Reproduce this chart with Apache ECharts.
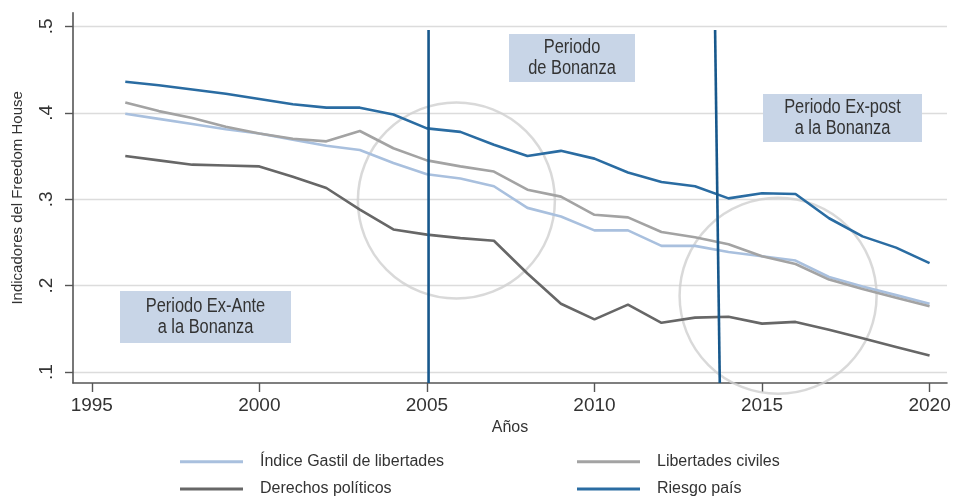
<!DOCTYPE html>
<html>
<head>
<meta charset="utf-8">
<script src="https://cdn.jsdelivr.net/npm/echarts@6/dist/echarts.min.js"></script>
<style>
  html, body { margin: 0; padding: 0; background: #fff; }
  #chart { width: 953px; height: 499px; }
</style>
</head>
<body>
<div id="chart"></div>
<script>
// Años observados
const years = [1996, 1997, 1998, 1999, 2000, 2001, 2002, 2003, 2004, 2005, 2006, 2007, 2008,
  2009, 2010, 2011, 2012, 2013, 2014, 2015, 2016, 2017, 2018, 2019, 2020];

// Indicadores (escala 0-1)
const gastil = [0.399, 0.393, 0.387, 0.381, 0.376, 0.369, 0.362, 0.357, 0.342, 0.329, 0.324, 0.315, 0.290,
  0.280, 0.264, 0.264, 0.246, 0.246, 0.239, 0.234, 0.229, 0.210, 0.199, 0.189, 0.179];
const civiles = [0.412, 0.402, 0.394, 0.384, 0.376, 0.370, 0.367, 0.379, 0.359, 0.345, 0.338, 0.332, 0.311,
  0.303, 0.282, 0.279, 0.262, 0.256, 0.248, 0.234, 0.225, 0.207, 0.196, 0.186, 0.176];
const politicos = [0.350, 0.345, 0.340, 0.339, 0.338, 0.326, 0.313, 0.288, 0.265, 0.259, 0.255, 0.252, 0.214,
  0.179, 0.161, 0.178, 0.157, 0.163, 0.164, 0.156, 0.158, 0.149, 0.139, 0.129, 0.119];
const riesgo = [0.436, 0.432, 0.427, 0.422, 0.416, 0.410, 0.406, 0.406, 0.398, 0.382, 0.378, 0.363, 0.350,
  0.356, 0.347, 0.331, 0.320, 0.315, 0.301, 0.307, 0.306, 0.278, 0.257, 0.244, 0.226];

// Marcas de los ejes
const xTicks = [1995, 2000, 2005, 2010, 2015, 2020];
const yTicks = [0.1, 0.2, 0.3, 0.4, 0.5];
const xRange = [1994.44, 2020.52];
const yRange = [0.0873, 0.5159];

// Cortes entre periodos (año, valor) en los extremos de cada línea
const corte1 = [[2005.05, 0.496], [2005.05, 0.0873]];
const corte2 = [[2013.6, 0.496], [2013.74, 0.0873]];

// Centros de los círculos que resaltan los cambios
const circulos = [[2005.88, 0.2985], [2015.48, 0.1882]];

const names = ['Índice Gastil de libertades', 'Libertades civiles', 'Derechos políticos', 'Riesgo país'];
const colors = ['#a9c0de', '#a3a3a3', '#676767', '#2a6ca2'];
const FONT = "'Liberation Sans', Arial, sans-serif";

const pairs = arr => years.map((y, i) => [y, arr[i]]);

const chart = echarts.init(document.getElementById('chart'), null, { renderer: 'canvas' });

const lineSeries = [gastil, civiles, politicos, riesgo].map((arr, i) => ({
  name: names[i],
  type: 'line',
  data: pairs(arr),
  symbol: 'none',
  showSymbol: false,
  lineStyle: { color: colors[i], width: 2.6 },
  itemStyle: { color: colors[i] },
  z: 4,
  silent: true
}));

// Recuadros con el nombre de cada periodo
const boxes = [
  { x: 509, y: 34, w: 126, h: 48, lines: ['Periodo', 'de Bonanza'] },
  { x: 763, y: 94, w: 159, h: 48, lines: ['Periodo Ex-post', 'a la Bonanza'] },
  { x: 120, y: 291, w: 171, h: 52, lines: ['Periodo Ex-Ante', 'a la Bonanza'] }
];

const graphic = [];
boxes.forEach(b => {
  graphic.push({
    type: 'rect', left: b.x, top: b.y, z: 10,
    shape: { width: b.w, height: b.h },
    style: { fill: '#c8d5e7' }
  });
  graphic.push({
    type: 'text', z: 11,
    x: b.x + b.w / 2, y: b.y + b.h / 2,
    scaleX: 0.82,
    style: {
      text: b.lines.join('\n'),
      font: '20px ' + FONT,
      fill: '#333333',
      align: 'center',
      verticalAlign: 'middle',
      lineHeight: 21.6
    }
  });
});

const legendBase = {
  top: 452.7, orient: 'vertical', padding: 0, itemWidth: 63, itemHeight: 3, itemGap: 9.3,
  icon: 'rect',
  textStyle: { fontSize: 16, color: '#333', lineHeight: 18, padding: [0, 0, 0, 12], fontFamily: FONT }
};

const option = {
  animation: false,
  backgroundColor: '#ffffff',
  textStyle: { fontFamily: FONT },
  grid: { left: 73, right: 6, top: 12.7, bottom: 116, containLabel: false, outerBoundsMode: 'none' },
  xAxis: {
    type: 'value',
    min: xRange[0], max: xRange[1],
    name: 'Años',
    nameLocation: 'middle',
    nameGap: 34,
    nameTextStyle: { fontSize: 16, color: '#333', fontFamily: FONT },
    axisLine: { show: true, onZero: false, lineStyle: { color: '#555', width: 1.6 } },
    axisTick: { show: true, length: 9, customValues: xTicks, lineStyle: { color: '#555', width: 1.4 } },
    axisLabel: {
      customValues: xTicks, margin: 13, fontSize: 19, color: '#333', fontFamily: FONT,
      formatter: v => String(v)
    },
    splitLine: { show: false }
  },
  yAxis: {
    type: 'value',
    min: yRange[0], max: yRange[1],
    name: 'Indicadores del Freedom House',
    nameLocation: 'middle',
    nameRotate: 90,
    nameGap: 47.5,
    nameTextStyle: { fontSize: 15, color: '#333', fontFamily: FONT },
    axisLine: { show: true, onZero: false, lineStyle: { color: '#555', width: 1.6 } },
    axisTick: { show: true, length: 8, customValues: yTicks, lineStyle: { color: '#555', width: 1.4 } },
    axisLabel: {
      customValues: yTicks, rotate: 90, margin: 16.5, fontSize: 19, color: '#333', fontFamily: FONT,
      formatter: v => '.' + Math.round(v * 10)
    },
    splitLine: { show: true, lineStyle: { color: '#dcdcdc', width: 1.4 } }
  },
  legend: [
    Object.assign({}, legendBase, { left: 180, data: [names[0], names[2]] }),
    Object.assign({}, legendBase, { left: 577, data: [names[1], names[3]] })
  ],
  series: [
    {
      name: 'circulos',
      type: 'scatter',
      data: circulos,
      symbol: 'circle',
      symbolSize: [197, 196],
      itemStyle: { color: 'rgba(0,0,0,0)', borderColor: '#d0d0d0', borderWidth: 2.5 },
      z: 2,
      silent: true
    },
    ...lineSeries,
    {
      name: 'corte1', type: 'line', data: corte1, symbol: 'none',
      lineStyle: { color: '#17588c', width: 2.6 }, z: 6, silent: true
    },
    {
      name: 'corte2', type: 'line', data: corte2, symbol: 'none',
      lineStyle: { color: '#17588c', width: 2.6 }, z: 6, silent: true
    }
  ],
  graphic: graphic
};

chart.setOption(option);
</script>
</body>
</html>
